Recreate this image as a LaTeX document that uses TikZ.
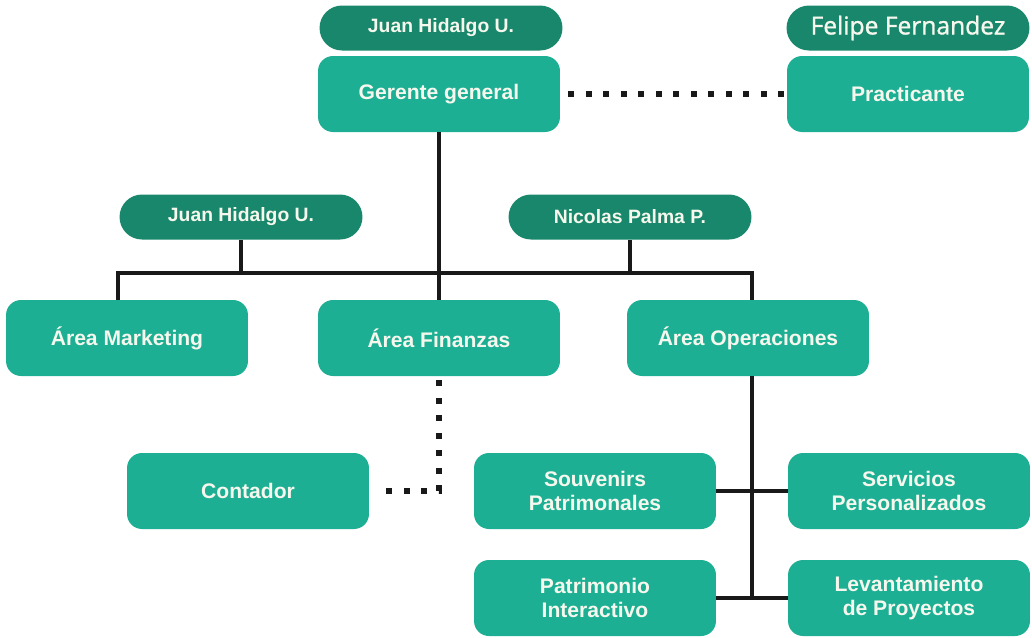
\documentclass[tikz,border=0pt]{standalone}
\usepackage{fontspec}
\setmainfont{Liberation Sans}
\newfontfamily\felipefont[FakeBold=1.2]{Open Sans}
\definecolor{unitgreen}{RGB}{28,175,148}
\definecolor{namegreen}{RGB}{25,135,107}
\definecolor{labeltext}{RGB}{246,248,238}
\tikzset{
  unitbox/.style={fill=unitgreen, rounded corners=0.3cm, minimum width=4.84cm, minimum height=1.52cm,
    text=labeltext, font=\bfseries\fontsize{12}{14}\selectfont, align=center},
  namebox/.style={fill=namegreen, rounded corners=0.45cm, minimum width=4.86cm, minimum height=0.9cm,
    text=labeltext, font=\bfseries\fontsize{11}{13}\selectfont},
  link/.style={line width=0.08cm, draw=black!90},
  dotlink/.style={line width=0.12cm, dash pattern=on 0.12cm off 0.23cm, draw=black!90}
}
\begin{document}
\begin{tikzpicture}[x=0.02cm, y=-0.02cm]
	\useasboundingbox (0,0) rectangle (1032,637);
	% jefatura
	\node[namebox] (jh1) at (441,28) {Juan Hidalgo U.};
	\node[unitbox] (ger) at (439,94) {Gerente general};
	\node[namebox, font=\felipefont\fontsize{14}{16}\selectfont] (ff) at (908,28) {Felipe Fernandez};
	\node[unitbox] (prac) at (908,94) {Practicante};
	% areas
	\node[namebox] (jh2) at (241,217) {Juan Hidalgo U.};
	\node[namebox] (np) at (630,217) {Nicolas Palma P.};
	\node[unitbox] (mkt) at (127,338) {Área Marketing};
	\node[unitbox] (fin) at (439,338) {Área Finanzas};
	\node[unitbox] (ops) at (748,338) {Área Operaciones};
	\node[unitbox] (cont) at (248,491) {Contador};
	% operaciones
	\node[unitbox] (souv) at (595,491) {Souvenirs\\Patrimonales};
	\node[unitbox] (serv) at (909,491) {Servicios\\Personalizados};
	\node[unitbox] (pat) at (595,598) {Patrimonio\\Interactivo};
	\node[unitbox] (lev) at (909,598) {Levantamiento\\de Proyectos};
	% conectores
	\coordinate (bar) at (439,273);
	\coordinate (trunk) at ([xshift=0.08cm]ops.south);
	\draw[dotlink] ([xshift=0.16cm]ger.east) -- ([xshift=-0.06cm]prac.west);
	\draw[link] (ger.south) -- (fin.north);
	\draw[link] ([xshift=-0.18cm]mkt.north) |- (bar) -| ([xshift=0.08cm]ops.north);
	\draw[link] (jh2.south) -- (jh2.south |- bar);
	\draw[link] (np.south) -- (np.south |- bar);
	\draw[dotlink] ([yshift=-0.08cm]fin.south) |- ([xshift=0.32cm]cont.east);
	\draw[link] (trunk) -- (trunk |- lev.west);
	\draw[link] (souv.east) -- (serv.west);
	\draw[link] (pat.east) -- (lev.west);
\end{tikzpicture}
\end{document}
